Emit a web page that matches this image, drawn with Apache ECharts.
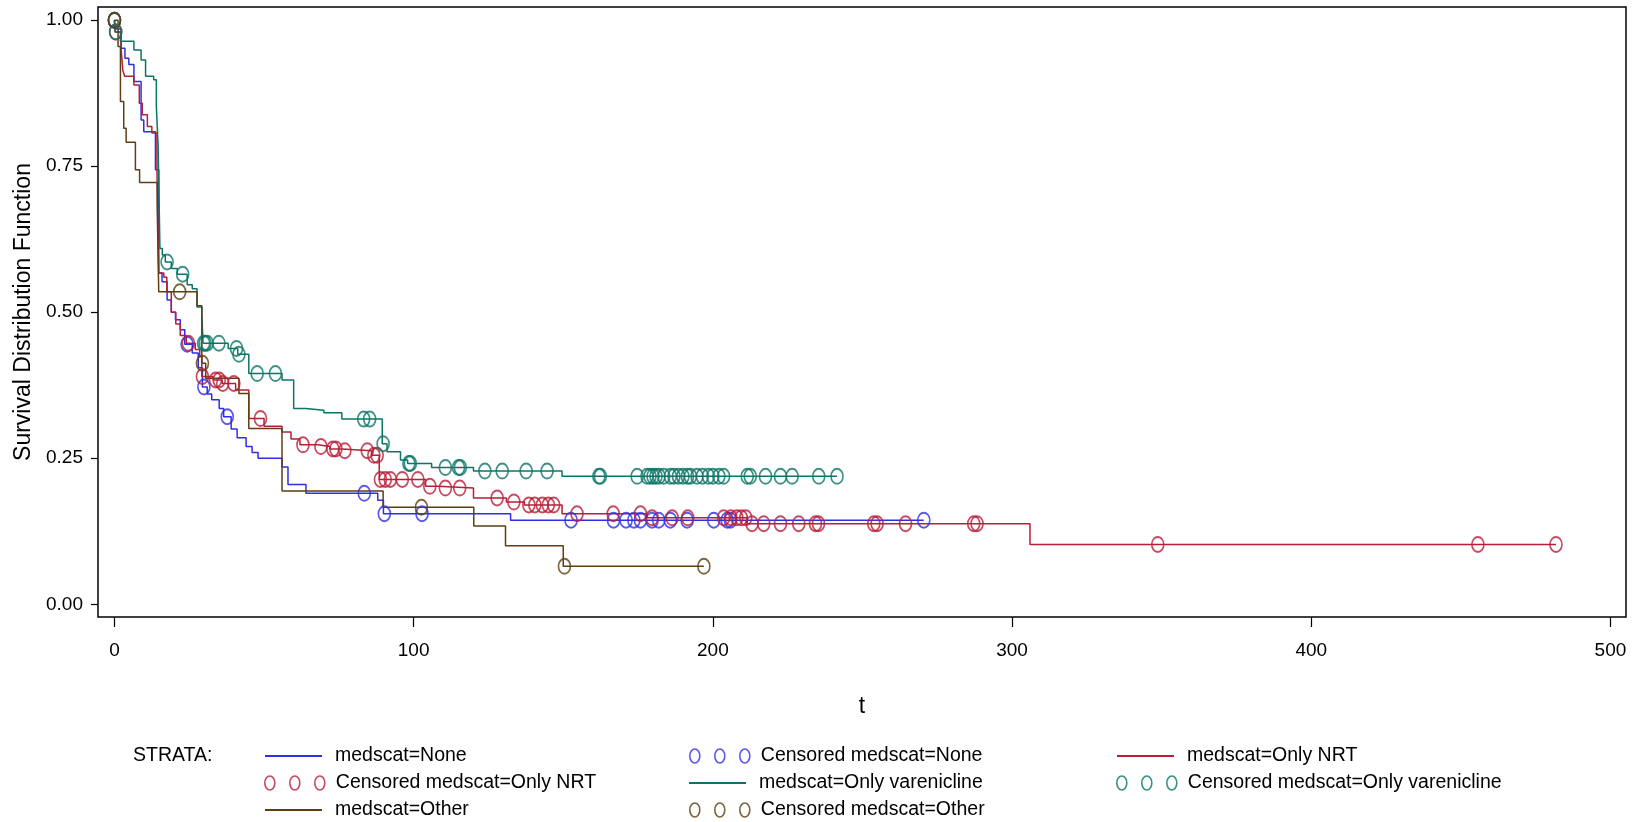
<!DOCTYPE html>
<html><head><meta charset="utf-8">
<script src="https://cdn.jsdelivr.net/npm/echarts@6/dist/echarts.min.js"></script>
<style>html,body{margin:0;padding:0;background:#fff}#c{width:1642px;height:822px}</style>
</head><body><div id="c"></div>
<script>
// ---- tick labels ----
const xTicks = [0, 100, 200, 300, 400, 500];
const yTicks = [0, 0.25, 0.5, 0.75, 1];

// ---- medscat=None ----
const timesNone = [0.2, 2.2, 3.5, 4.8, 6.5, 8.9, 9.8, 13.7, 14.8, 15.9, 17.6, 19, 20.4, 22, 23.5, 26, 28, 29.4, 31, 32.5, 35, 36.5, 39, 41, 44, 46, 48, 56, 58, 64, 88, 89.9, 132.4];
const survNone  = [0.985, 0.952, 0.935, 0.924, 0.895, 0.829, 0.809, 0.744, 0.567, 0.552, 0.521, 0.5, 0.487, 0.47, 0.445, 0.43, 0.405, 0.372, 0.36, 0.35, 0.335, 0.321, 0.30, 0.285, 0.27, 0.26, 0.25, 0.235, 0.205, 0.19, 0.178, 0.155, 0.144];
const censNone  = [0, 24.3, 29.9, 37.7, 83.5, 90.2, 102.8, 152.6, 166.8, 171, 173.6, 175.8, 179.7, 181.9, 185.8, 191.4, 200.3, 204.8, 205.9, 270.5];

// ---- medscat=Only NRT ----
const timesNRT = [0.2, 2.2, 2.8, 3.4, 6.5, 8.3, 9.3, 11, 12.5, 14.2, 14.8, 16.5, 17.5, 19, 20.5, 22, 24, 27, 28.5, 29.2, 33, 36, 40.5, 44.9, 50, 56, 59, 62, 68, 72, 76, 86, 88.5, 104, 108, 120, 131, 137, 149.6, 178, 211.5, 306];
const survNRT  = [0.98, 0.952, 0.914, 0.904, 0.889, 0.858, 0.838, 0.818, 0.807, 0.744, 0.567, 0.56, 0.535, 0.5, 0.48, 0.46, 0.447, 0.436, 0.424, 0.39, 0.384, 0.378, 0.367, 0.318, 0.305, 0.295, 0.283, 0.273, 0.27, 0.266, 0.263, 0.255, 0.2137, 0.202, 0.199, 0.182, 0.175, 0.170, 0.155, 0.148, 0.138, 0.1025];
const censNRT  = [0, 0.4, 24.7, 29.4, 33.8, 35, 36.2, 39.9, 48.8, 63, 69, 73, 74, 77, 84.5, 86.7, 87.8, 88.9, 90.5, 92.2, 96.2, 101.4, 105.4, 110.6, 115.4, 127.9, 133.5, 138.5, 140.5, 143, 145, 146.8, 154.6, 166.7, 175.8, 179.7, 186.4, 191.6, 203.6, 206, 208, 209.5, 211, 213.1, 217, 222.6, 228.7, 234.3, 235.3, 253.8, 254.9, 264.4, 287.2, 288.3, 348.7, 455.7, 481.8];

// ---- medscat=Only varenicline ----
const timesVar = [0.2, 2, 6.5, 8.9, 10.4, 13.1, 14.0, 14.6, 15.2, 16, 17, 19, 21, 24.3, 26, 27.6, 29.2, 29.6, 38, 41.2, 44.9, 56, 59.9, 64, 70, 76, 89.5, 91.1, 95.6, 98, 106, 120, 149.6];
const survVar  = [0.98, 0.964, 0.949, 0.932, 0.904, 0.898, 0.852, 0.784, 0.609, 0.598, 0.586, 0.575, 0.565, 0.547, 0.54, 0.509, 0.498, 0.447, 0.438, 0.428, 0.395, 0.384, 0.335, 0.332, 0.328, 0.317, 0.275, 0.261, 0.247, 0.241, 0.234, 0.228, 0.219];
const censVar  = [0, 0.4, 17.6, 22.8, 29.8, 30.3, 31, 34.9, 40.8, 41.6, 47.7, 53.8, 83.3, 85.3, 89.8, 98.4, 98.9, 110.6, 115, 115.6, 123.8, 129.6, 137.6, 144.6, 161.9, 162.4, 174.7, 178, 179, 180, 181, 182, 183.6, 185.8, 187, 188.5, 190, 191.5, 192.5, 194.7, 196.5, 198.5, 200, 202, 203.6, 211.5, 212.5, 217.6, 222.6, 226.5, 235.4, 241.5];

// ---- medscat=Other ----
const timesOther = [1.2, 2.0, 3.1, 3.9, 7.0, 8.4, 14.3, 14.8, 27.6, 29.2, 30.5, 41.6, 44.9, 56, 89.8, 120.1, 130.7, 150];
const survOther  = [0.955, 0.861, 0.815, 0.791, 0.744, 0.722, 0.675, 0.535, 0.511, 0.4125, 0.387, 0.361, 0.301, 0.194, 0.166, 0.134, 0.100, 0.065];
const censOther  = [0, 21.8, 29.4, 102.6, 150.4, 197];

const groups = [
  {label: 'None', times: timesNone, surv: survNone, cens: censNone, color: '#2F2FE6'},
  {label: 'Only NRT', times: timesNRT, surv: survNRT, cens: censNRT, color: '#B81E38'},
  {label: 'Only varenicline', times: timesVar, surv: survVar, cens: censVar, color: '#0B7566'},
  {label: 'Other', times: timesOther, surv: survOther, cens: censOther, color: '#5E3F12'}
];

function survAt(g, t) {
  let s = 1;
  for (let i = 0; i < g.times.length; i++) { if (g.times[i] <= t) s = g.surv[i]; }
  return s;
}

const series = [];
groups.forEach(g => {
  const end = Math.max.apply(null, g.cens);
  const line = [[0, 1]];
  g.times.forEach((t, i) => line.push([t, g.surv[i]]));
  line.push([end, g.surv[g.surv.length - 1]]);
  series.push({
    name: 'medscat=' + g.label, type: 'line', step: 'end', data: line,
    symbol: 'none', lineStyle: {color: g.color, width: 1.5}, itemStyle: {color: g.color},
    z: 2, silent: true
  });
  series.push({
    name: 'Censored medscat=' + g.label, type: 'scatter',
    data: g.cens.map(t => [t, survAt(g, t)]),
    symbol: 'circle', symbolSize: [12, 15],
    itemStyle: {color: 'rgba(0,0,0,0)', borderColor: g.color, borderWidth: 1.8},
    z: 3, silent: true
  });
});

const FONT = '"Liberation Sans", Arial, sans-serif';
const ringsPath = 'path://M0,7A5,7 0 1 1 10,7A5,7 0 1 1 0,7Z M25,7A5,7 0 1 1 35,7A5,7 0 1 1 25,7Z M50,7A5,7 0 1 1 60,7A5,7 0 1 1 50,7Z';

function lineLegend(g, left, rowY) {
  return {
    left: left, top: rowY - 10, padding: 0, selectedMode: false,
    itemWidth: 57, itemHeight: 2, itemGap: 0,
    textStyle: {fontFamily: FONT, fontSize: 19.5, color: '#000', lineHeight: 20, padding: [0, 0, 0, 8]},
    data: [{name: 'medscat=' + g.label, icon: 'rect', itemStyle: {color: g.color, borderWidth: 0}}]
  };
}
function censLegend(g, left, rowY) {
  return {
    left: left, top: rowY - 10, padding: 0, selectedMode: false,
    itemWidth: 60, itemHeight: 14, itemGap: 0,
    textStyle: {fontFamily: FONT, fontSize: 19.5, color: '#000', lineHeight: 20, padding: [0, 0, 0, 6]},
    data: [{name: 'Censored medscat=' + g.label, icon: ringsPath,
            itemStyle: {color: 'rgba(0,0,0,0)', borderColor: g.color, borderWidth: 1.6}}]
  };
}

const chart = echarts.init(document.getElementById('c'), null, {renderer: 'canvas'});
chart.setOption({
  animation: false,
  backgroundColor: '#fff',
  title: {text: 'STRATA:', left: 133, top: 745, padding: 0,
          textStyle: {fontFamily: FONT, fontSize: 19.5, fontWeight: 'normal', color: '#000', lineHeight: 22}},
  legend: [
    lineLegend(groups[0], 265, 756),
    censLegend(groups[0], 689, 756),
    lineLegend(groups[1], 1117, 756),
    censLegend(groups[1], 264, 783),
    lineLegend(groups[2], 689, 783),
    censLegend(groups[2], 1116, 783),
    lineLegend(groups[3], 265, 810),
    censLegend(groups[3], 689, 810)
  ],
  grid: {left: 98, right: 16, top: 7, bottom: 205, show: true, borderColor: '#000', borderWidth: 1.5, backgroundColor: 'transparent'},
  xAxis: {
    type: 'value', min: -5.5, max: 505.2,
    name: 't', nameLocation: 'middle', nameGap: 78,
    nameTextStyle: {fontFamily: FONT, fontSize: 23, color: '#000'},
    axisLine: {show: false, onZero: false},
    axisTick: {show: true, length: 10, customValues: xTicks, lineStyle: {color: '#000', width: 1.2}},
    axisLabel: {customValues: xTicks, margin: 24, fontFamily: FONT, fontSize: 19, color: '#000'},
    splitLine: {show: false}
  },
  yAxis: {
    type: 'value', min: -0.0218, max: 1.0226,
    name: 'Survival Distribution Function', nameLocation: 'middle', nameGap: 62, nameRotate: 90,
    nameTextStyle: {fontFamily: FONT, fontSize: 23, color: '#000'},
    axisLine: {show: false, onZero: false},
    axisTick: {show: true, length: 7, customValues: yTicks, lineStyle: {color: '#000', width: 1.2}},
    axisLabel: {customValues: yTicks, margin: 15, fontFamily: FONT, fontSize: 19, color: '#000',
                formatter: v => v.toFixed(2)},
    splitLine: {show: false}
  },
  series: series
});
</script>
</body></html>
